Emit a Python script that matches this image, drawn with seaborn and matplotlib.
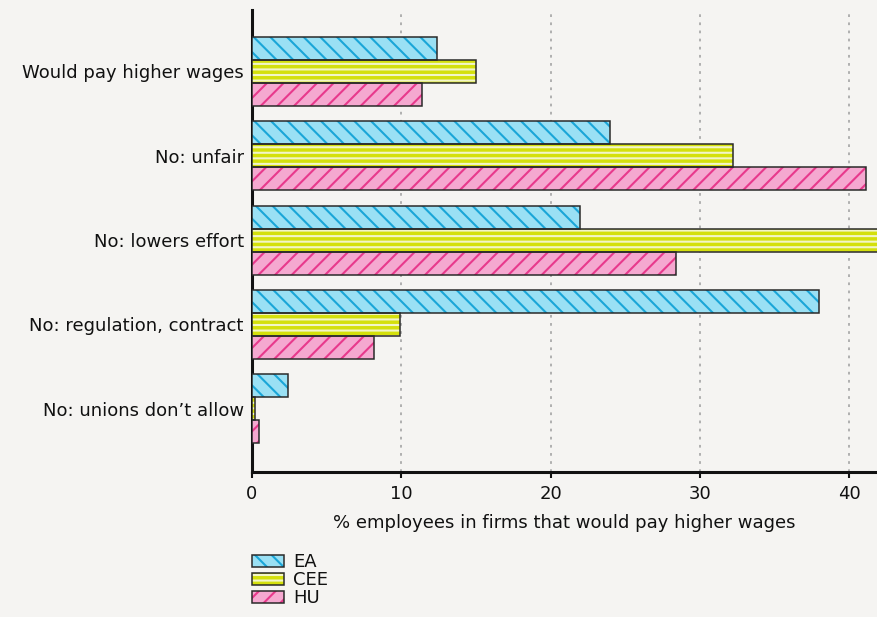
import matplotlib
matplotlib.use("Agg")
import matplotlib.pyplot as plt
import seaborn as sns
import pandas as pd
from matplotlib.patches import Rectangle, Patch

categories = ["Would pay higher wages", "No: unfair", "No: lowers effort",
              "No: regulation, contract", "No: unions don\u2019t allow"]
series = ["EA", "CEE", "HU"]
ea = [12.4, 24.0, 22.0, 38.0, 2.4]
cee = [15.0, 32.2, 45.0, 9.9, 0.2]
hu = [11.4, 41.1, 28.4, 8.2, 0.5]
xticks = [0, 10, 20, 30, 40]
xlabel = "% employees in firms that would pay higher wages"

fills = {"EA": "#9ae0f4", "CEE": "#d4e00c", "HU": "#f5a8d0"}
hatch_colors = {"EA": "#1aa6d8", "CEE": "#f2f5c8", "HU": "#e8398c"}
hatches = {"EA": "\\\\", "CEE": "---", "HU": "//"}
edge = "#2a2a2a"
bg = "#f5f4f2"

sns.set_theme(style="white")
plt.rcParams["font.family"] = ["DejaVu Sans"]
plt.rcParams["hatch.linewidth"] = 1.5

df = pd.DataFrame({
    "category": categories * 3,
    "series": ["EA"] * 5 + ["CEE"] * 5 + ["HU"] * 5,
    "value": ea + cee + hu,
})

fig = plt.figure(figsize=(8.77, 6.17), dpi=100, facecolor=bg)
ax = fig.add_axes([0.2873, 0.235, 0.7127, 0.749])
ax.set_facecolor(bg)

sns.barplot(data=df, y="category", x="value", hue="series", order=categories,
            hue_order=series, palette=fills, orient="h", width=0.82,
            saturation=1, ax=ax, legend=False, zorder=3)

for i, s in enumerate(series):
    cont = ax.containers[i]
    for p in cont.patches:
        p.set_edgecolor(hatch_colors[s])
        p.set_hatch(hatches[s])
        p.set_linewidth(0)
        r = Rectangle(p.get_xy(), p.get_width(), p.get_height(), facecolor="none",
                      edgecolor=edge, linewidth=1.1, zorder=4)
        ax.add_patch(r)

fs = 13
ax.set_xlim(0, 41.87)
ax.set_ylim(4.75, -0.73)
ax.set_xticks(xticks)
ax.set_xticklabels([str(t) for t in xticks], fontsize=fs)
ax.tick_params(axis="y", labelsize=fs, length=0, pad=6, colors="#111111")
ax.tick_params(axis="x", length=4, width=1.5, direction="out", colors="#111111",
               pad=5, bottom=True)
ax.set_ylabel("")
ax.set_xlabel(xlabel, fontsize=fs, color="#111111", labelpad=8)

for x in xticks[1:]:
    ax.axvline(x, color="#aaaaaa", linestyle=(0, (1.5, 3)), linewidth=1.3, zorder=1)

for sp in ["top", "right"]:
    ax.spines[sp].set_visible(False)
for sp in ["left", "bottom"]:
    ax.spines[sp].set_color("#111111")
    ax.spines[sp].set_linewidth(2.2)

handles = [(Patch(facecolor=fills[s], edgecolor=hatch_colors[s], hatch=hatches[s], linewidth=0),
            Patch(facecolor="none", edgecolor=edge, linewidth=1.1)) for s in series]
leg = fig.legend(handles, series, loc="upper left", bbox_to_anchor=(0.2873, 0.103),
                 frameon=False, fontsize=fs, handlelength=1.75, handleheight=0.6,
                 labelspacing=0.0, handletextpad=0.55, borderpad=0, borderaxespad=0)
for t in leg.get_texts():
    t.set_color("#111111")

fig.savefig("out.png", dpi=100, facecolor=bg)
